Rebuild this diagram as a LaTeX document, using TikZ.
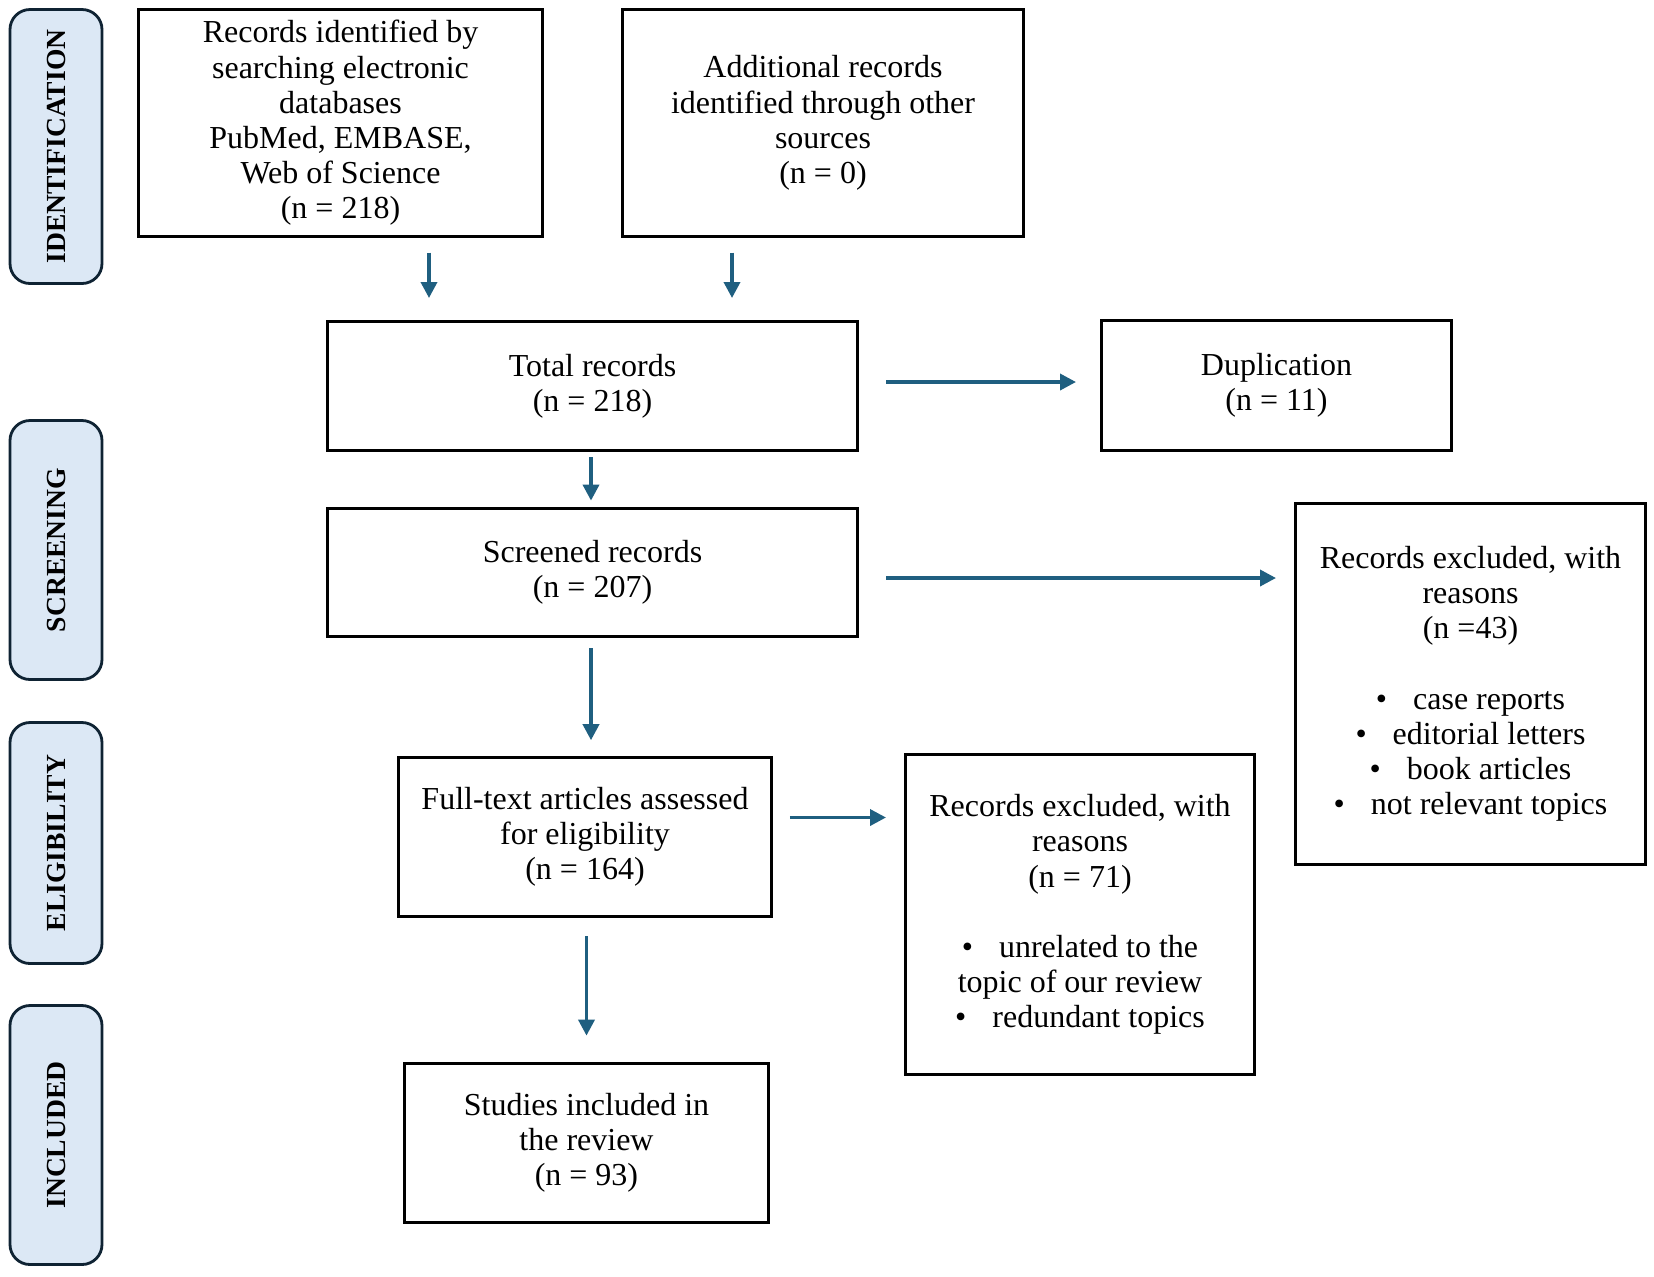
\documentclass[tikz,border=0pt]{standalone}
\newif\ifpala
\IfFileExists{t1ppl.fd}{\IfFileExists{pplr8t.tfm}{\IfFileExists{pplb8t.tfm}{\palatrue}{}}{}}{}
\ifpala
 \usepackage[T1]{fontenc}
 \renewcommand{\rmdefault}{ppl}
 \newcommand{\boxfontsize}{\fontsize{14.6}{17.6}\selectfont}
 \newcommand{\phasefontsize}{\fontsize{13}{15}\selectfont}
\else
 \usepackage{fontspec}
 \setmainfont{Liberation Serif}
 \newcommand{\boxfontsize}{\fontsize{16}{17.6}\selectfont}
 \newcommand{\phasefontsize}{\fontsize{13.8}{15}\selectfont}
\fi
\usetikzlibrary{arrows.meta}
\definecolor{arrblue}{HTML}{1F5F80}
\definecolor{lblfill}{HTML}{DCE8F5}
\definecolor{lbldraw}{HTML}{0F2333}
\tikzset{
 box/.style={draw=black, line width=1.5pt, align=center, inner sep=0pt, font=\boxfontsize},
 phase/.style={draw=lbldraw, fill=lblfill, line width=1.4pt, rounded corners=10pt, rotate=90, minimum height=46pt, inner sep=0pt, font=\phasefontsize\bfseries},
 arr/.style={draw=arrblue, line width=1.8pt, -{Triangle[length=8pt,width=8pt]}}
}
\newcommand{\bul}{\textbullet\hspace{13pt}}
\begin{document}
\begin{tikzpicture}[x=0.5pt,y=-0.5pt]
\path[fill=white] (0,0) rectangle (1654,1276);
% phase labels
\node[phase, minimum width=137pt] (pid) at (56,146.5) {IDENTIFICATION};
\node[phase, minimum width=129.5pt] (psc) at (56,550) {SCREENING};
\node[phase, minimum width=120.5pt] (pel) at (56,843) {ELIGIBILITY};
\node[phase, minimum width=129.5pt] (pin) at (56,1135) {INCLUDED};
% boxes
\node[box, minimum width=202pt, minimum height=113.5pt] (b1) at (340.5,123) {Records identified by\\searching electronic\\databases\\PubMed, EMBASE,\\Web of Science\\(n = 218)};
\node[box, minimum width=200.5pt, minimum height=113.5pt] (b2) at (823,123) {Additional records\\identified through other\\sources\\(n = 0)};
\node[box, minimum width=265pt, minimum height=64.5pt] (tot) at (592.5,386) {Total records\\(n = 218)};
\node[box, minimum width=175pt, minimum height=65pt] (dup) at (1276.5,385.5) {Duplication\\(n = 11)};
\node[box, minimum width=265pt, minimum height=64pt] (scr) at (592.5,572.5) {Screened records\\(n = 207)};
\node[box, minimum width=175pt, minimum height=180.5pt] (ex1) at (1470.5,684) {Records excluded, with\\reasons\\(n =43)\\[17.6pt]\bul case reports\\\bul editorial letters\\\bul book articles\\\bul not relevant topics};
\node[box, minimum width=186.5pt, minimum height=79.5pt] (ft) at (585,837) {Full-text articles assessed\\for eligibility\\(n = 164)};
\node[box, minimum width=174.5pt, minimum height=160pt] (ex2) at (1080,914.5) {Records excluded, with\\reasons\\(n = 71)\\[17.6pt]\bul unrelated to the\\topic of our review\\\bul redundant topics};
\node[box, minimum width=182pt, minimum height=79.5pt] (inc) at (586.5,1143) {Studies included in\\the review\\(n = 93)};
% arrow guide coordinates
\coordinate (ca1) at (429,0);
\coordinate (ca2) at (732,0);
\coordinate (ca3) at (591,0);
\coordinate (ca4) at (586.5,0);
\coordinate (cy1) at (0,382);
\coordinate (cy2) at (0,578);
\coordinate (cy3) at (0,817.5);
% arrows
\draw[arr, shorten <=7.3pt, shorten >=11pt] (b1.south -| ca1) -- (tot.north -| ca1);
\draw[arr, shorten <=7.3pt, shorten >=11pt] (b2.south -| ca2) -- (tot.north -| ca2);
\draw[arr, shorten <=13.7pt, shorten >=12pt] (tot.east |- cy1) -- (dup.west |- cy1);
\draw[arr, shorten <=2.6pt, shorten >=3.2pt] (tot.south -| ca3) -- (scr.north -| ca3);
\draw[arr, shorten <=13.7pt, shorten >=9pt] (scr.east |- cy2) -- (ex1.west |- cy2);
\draw[arr, shorten <=5.2pt, shorten >=7.9pt] (scr.south -| ca3) -- (ft.north -| ca3);
\draw[arr, shorten <=8.4pt, shorten >=9pt] (ft.east |- cy3) -- (ex2.west |- cy3);
\draw[arr, shorten <=9pt, shorten >=13.2pt] (ft.south -| ca4) -- (inc.north -| ca4);
\end{tikzpicture}
\end{document}
